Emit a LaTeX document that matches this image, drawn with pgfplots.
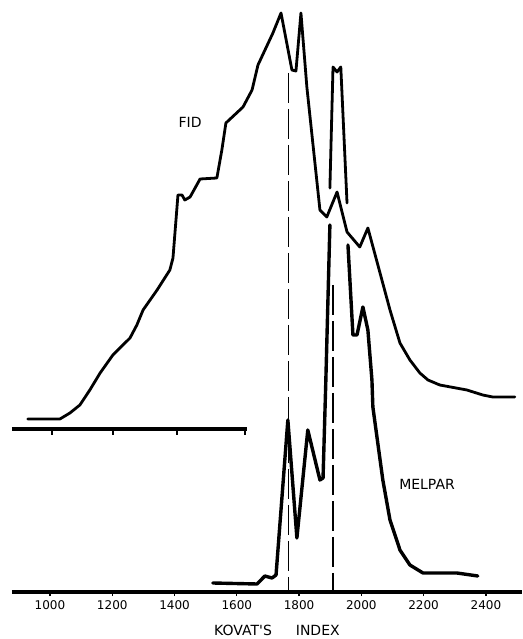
\documentclass[border=0pt]{standalone}
\usepackage{pgfplots}
\pgfplotsset{compat=1.18}
\usepackage{fontspec}
\setmainfont{DejaVu Sans}
\begin{document}
\begin{tikzpicture}
\begin{axis}[name=ax,
  scale only axis, width=510pt, height=592pt,
  xmin=878, xmax=2516, ymin=0, ymax=592,
  clip=false,
  axis y line=none,
  axis x line=bottom,
  x axis line style={-, line width=3.2pt},
  xtick={1000,1200,1400,1600,1800,2000,2200,2400},
  xticklabels={1000,1200,1400,1600,1800,2000,2200,2400},
  xticklabel style={font=\fontsize{12}{14}\selectfont, yshift=-1pt},
  tick align=outside, major tick length=4pt,
  tick style={black, line width=1.3pt},
  ytick=\empty,
]
% upper baseline of FID trace
\addplot[black, line width=3.2pt] coordinates {(878,163) (1633,163)};
\addplot[black, line width=1.3pt, unbounded coords=jump] coordinates {
(1006,163) (1006,157) (1006,nan) (1202,163) (1202,157) (1202,nan)
(1408,163) (1408,157) (1408,nan) (1626,163) (1626,157)};
% FID trace
\addplot[black, line width=2.8pt, line join=round, line cap=round] coordinates {
(929,173) (1032,173) (1064,179) (1096,187) (1128,202) (1161,219) (1202,237) (1257,254) (1279,267)
(1299,282) (1344,302) (1385,322) (1395,334) (1411,397) (1424,397) (1433,392)
(1450,395) (1482,413) (1536,414) (1552,442) (1565,469) (1620,485) (1649,502)
(1668,527) (1716,559) (1742,579) (1777,522) (1790,521) (1806,579) (1825,505)
(1867,382) (1889,375) (1922,400) (1954,360) (1995,345) (2021,364) (2060,319)
(2092,282) (2124,249) (2156,232) (2188,219) (2214,212) (2252,207) (2339,202)
(2390,197) (2422,195) (2493,195)};
% FID offset segment
\addplot[black, line width=2.8pt, line join=round, line cap=round] coordinates {
(1899,404) (1909,525) (1922,520) (1934,525) (1954,389)};
% MELPAR trace
\addplot[black, line width=3.4pt, line join=round, line cap=round] coordinates {
(1523,9) (1665,8) (1690,16) (1713,14) (1726,17) (1764,172) (1793,54)
(1828,162) (1867,112) (1877,114) (1886,212) (1899,367)};
\addplot[black, line width=3.4pt, line join=round, line cap=round] coordinates {
(1957,347) (1973,257) (1986,257) (2005,285) (2021,262) (2034,212) (2037,185)
(2069,112) (2092,72) (2124,42) (2156,27) (2198,19) (2307,19) (2374,16)};
% dashed reference lines
\addplot[black, line width=1.4pt, dash pattern=on 30pt off 6pt] coordinates {(1767,519) (1767,0)};
\addplot[black, line width=1.4pt, dash pattern=on 30pt off 6pt] coordinates {(1909,307) (1909,0)};
% labels
\node[font=\fontsize{14}{16}\selectfont] at (axis cs:1450,470) {FID};
\node[font=\fontsize{14}{16}\selectfont] at (axis cs:2211,108) {MELPAR};
\node[font=\fontsize{14}{16}\selectfont] at (axis cs:1729,-38) {KOVAT\textquotesingle S\hspace{24pt}INDEX};
\end{axis}
\pgfresetboundingbox
\path[use as bounding box] (ax.south west) ++(-12pt,-47pt) rectangle (ax.north east);
\end{tikzpicture}
\end{document}
